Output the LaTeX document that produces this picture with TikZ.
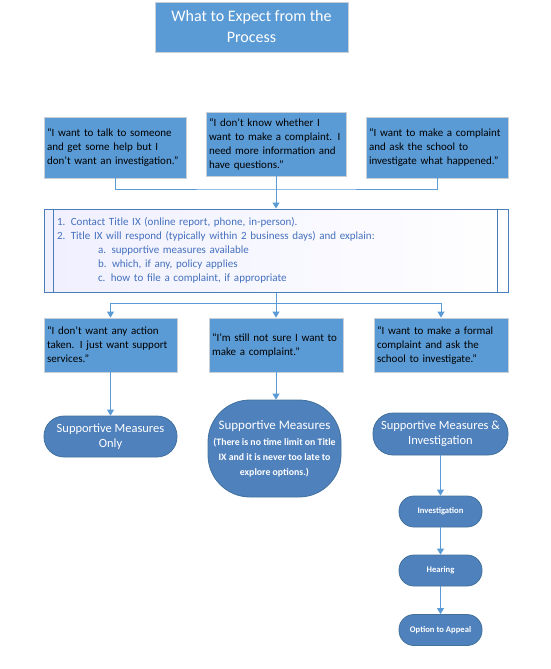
\documentclass[tikz,border=0pt]{standalone}
\usepackage{fontspec}
\setmainfont{Carlito}
\usetikzlibrary{arrows.meta,shadows}
\definecolor{boxblue}{HTML}{5B9BD5}
\definecolor{boxedge}{HTML}{C9CFD6}
\definecolor{pillblue}{HTML}{4F81BD}
\definecolor{pilledge}{HTML}{41719C}
\definecolor{linkblue}{HTML}{5B9BD5}
\definecolor{procedge}{HTML}{4A7EBB}
\definecolor{proctext}{HTML}{4470BD}
\tikzset{
  quotebox/.style={draw=boxedge, line width=0.8pt, fill=boxblue, text=black,
    font=\fontsize{11}{14}\selectfont, align=left, inner xsep=3pt, inner ysep=0pt,
    text width=#1-6pt, minimum width=#1, anchor=center},
  titlebox/.style={draw=boxedge, line width=0.8pt, fill=boxblue, text=white,
    font=\fontsize{16}{21}\selectfont, align=center, minimum width=193pt, minimum height=50pt},
  pill/.style={draw=pilledge, line width=0.8pt, fill=pillblue, text=white, align=center,
    rounded corners=20pt, inner sep=1pt},
  smallpill/.style={draw=pilledge, line width=0.8pt, fill=pillblue, text=white, align=center,
    rounded corners=15pt, minimum width=83pt, minimum height=31pt,
    font=\bfseries\fontsize{8.6}{10}\selectfont},
  procbox/.style={draw=procedge, line width=1pt, shading angle=60, left color=blue!6, right color=white,
    text=proctext, font=\fontsize{11}{14}\selectfont, align=left,
    text width=438pt, inner xsep=13pt, minimum width=464pt, minimum height=83pt},
  link/.style={draw=linkblue, line width=1pt},
  arr/.style={link, -{Triangle[width=7pt,length=6pt]}},
}
\begin{document}
\begin{tikzpicture}[x=1pt,y=-1pt]
\useasboundingbox (0,0) rectangle (550,669);
\node[titlebox] (title) at (251.5,27) {What to Expect from the\\Process};

\node[quotebox=142pt, minimum height=61pt] (q1) at (115,147.5)
  {“I want to talk to someone\\and get some help but I\\don’t want an investigation.”};
\node[quotebox=140pt, minimum height=64pt] (q2) at (276,144)
  {“I don’t know whether I\\want to make a complaint. I\\need more information and\\have questions.”};
\node[quotebox=142pt, minimum height=61pt] (q3) at (437,147.5)
  {“I want to make a complaint\\and ask the school to\\investigate what happened.”};

\node[procbox] (proc) at (276,250.5)
  {1. Contact Title IX (online report, phone, in-person).\\
   2. Title IX will respond (typically within 2 business days) and explain:\\
   \hspace*{41pt}a. supportive measures available\\
   \hspace*{41pt}b. which, if any, policy applies\\
   \hspace*{41pt}c. how to file a complaint, if appropriate};
\draw[draw=procedge, line width=1pt] ([xshift=10pt]proc.north west) -- ([xshift=10pt]proc.south west);
\draw[draw=procedge, line width=1pt] ([xshift=-11pt]proc.north east) -- ([xshift=-11pt]proc.south east);

\node[quotebox=133pt, minimum height=54pt] (r1) at (110.5,345)
  {“I don’t want any action\\taken. I just want support\\services.”};
\node[quotebox=134pt, minimum height=54pt] (r2) at (276,345)
  {“I’m still not sure I want to\\make a complaint.”};
\node[quotebox=134pt, minimum height=54pt] (r3) at (441,345)
  {“I want to make a formal\\complaint and ask the\\school to investigate.”};

\node[pill, minimum width=133pt, minimum height=41pt, font=\fontsize{12.5}{15}\selectfont] (s1) at (110.5,436.5)
  {Supportive Measures\\Only};
\node[pill, rounded corners=42pt, minimum width=133pt, minimum height=97pt, font=\fontsize{13}{15}\selectfont] (s2) at (274.5,448.5)
  {Supportive Measures\\[1pt]
   \bfseries\fontsize{9.8}{13}\selectfont (There is no time limit on Title\\
   \bfseries\fontsize{9.8}{13}\selectfont IX and it is never too late to\\
   \bfseries\fontsize{9.8}{13}\selectfont explore options.)};
\node[pill, minimum width=135pt, minimum height=42pt, font=\fontsize{12.5}{15}\selectfont] (s3) at (440.5,434)
  {Supportive Measures \&\\Investigation};

\node[smallpill] (inv) at (440.5,511.5) {Investigation};
\node[smallpill] (hear) at (440.5,570.5) {Hearing};
\node[smallpill] (app) at (440.5,630) {Option to Appeal};

\coordinate (jt) at (276,189);
\coordinate (jb) at (276,303);
\draw[link] (q1.south) |- (jt) -| (q3.south);
\draw[link] (q2.south) -- (jt);
\draw[arr] (jt) -- (proc.north);
\draw[link] (proc.south) -- (jb);
\draw[arr] (jb) -| (r1.north);
\draw[arr] (jb) -| (r3.north);
\draw[arr] (jb) -- (r2.north);
\draw[arr] (r1.south) -- (s1.north);
\draw[arr] (r2.south) -- (r2.south |- s2.north);
\draw[arr] (s3.south) -- (inv.north);
\draw[arr] (inv.south) -- (hear.north);
\draw[arr] (hear.south) -- (app.north);
\end{tikzpicture}
\end{document}
